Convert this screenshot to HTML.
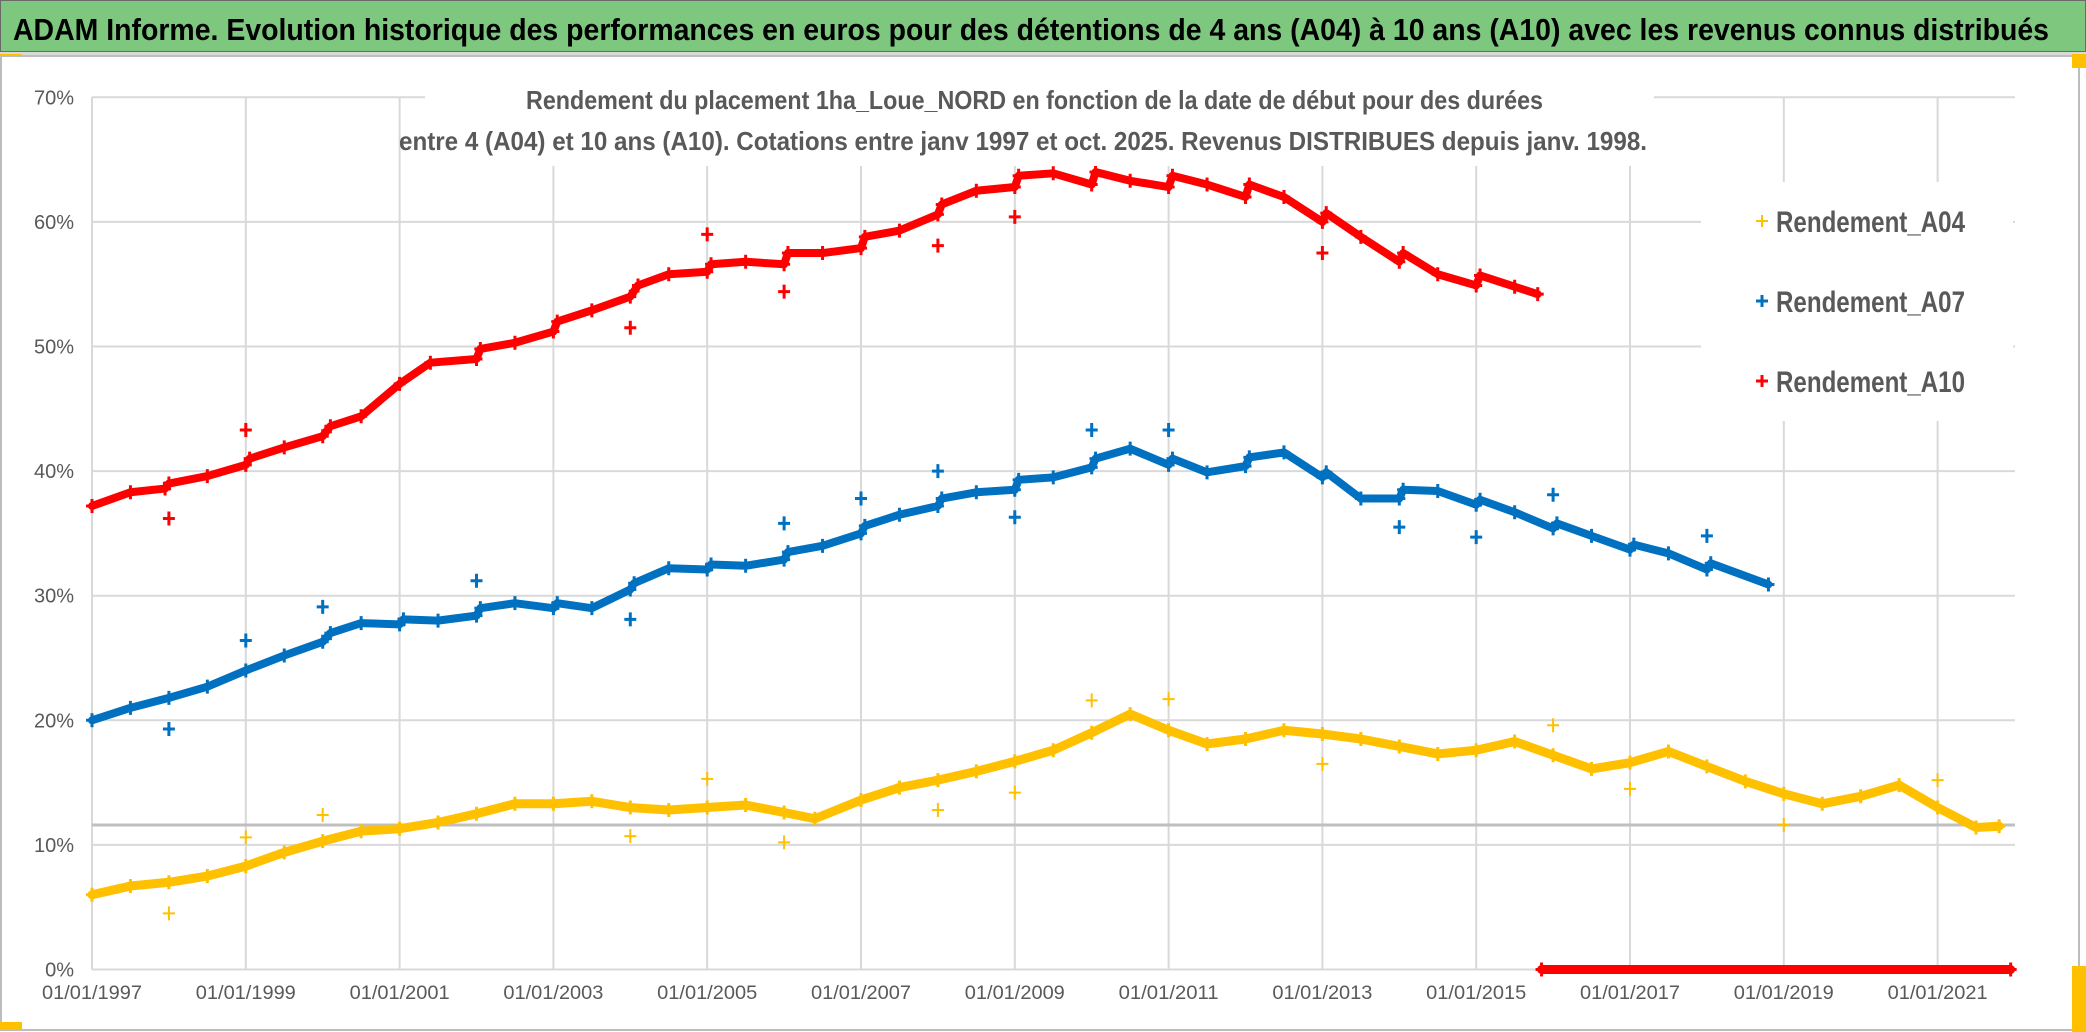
<!DOCTYPE html>
<html><head><meta charset="utf-8"><style>
html,body{margin:0;padding:0;background:#fff;}
svg{display:block;}
text{font-family:"Liberation Sans",sans-serif;}
</style></head><body>
<svg id="chart" width="2086" height="1032" viewBox="0 0 2086 1032">
  <rect x="0" y="0" width="2086" height="1032" fill="#ffffff"/>
  <rect x="0" y="0" width="2086" height="52" fill="#7dc87e" stroke="#6a6a6a" stroke-width="2"/>
  <text x="13" y="40" font-size="31" font-weight="bold" fill="#000" textLength="2036" lengthAdjust="spacingAndGlyphs">ADAM Informe. Evolution historique des performances en euros pour des détentions de 4 ans (A04) à 10 ans (A10) avec les revenus connus distribués</text>
  <rect x="0" y="52" width="2086" height="4" fill="#d9d9d9"/>
  <rect x="0" y="54" width="22" height="4" fill="#ffc000"/>
  <rect x="1" y="56" width="2078" height="974" fill="#fff" stroke="#bdbdbd" stroke-width="2"/>
  <rect x="2072" y="54" width="14" height="14" fill="#ffc000"/>
  <rect x="2072" y="966" width="14" height="66" fill="#ffc000"/>
  <rect x="0" y="1022" width="22" height="8" fill="#ffc000"/>
  <g id="grid"></g>
  <g id="axes"></g>
  <g id="series"></g>
  <rect x="425" y="70" width="1229" height="96" fill="#fff"/>
  <text x="526" y="109" font-size="26" font-weight="bold" fill="#595959" textLength="1017" lengthAdjust="spacingAndGlyphs">Rendement du placement 1ha_Loue_NORD en fonction de la date de début pour des durées</text>
  <text x="399" y="150" font-size="26" font-weight="bold" fill="#595959" textLength="1248" lengthAdjust="spacingAndGlyphs">entre 4 (A04) et 10 ans (A10). Cotations entre janv 1997 et oct. 2025. Revenus DISTRIBUES depuis janv. 1998.</text>
  <g id="legend">
    <rect x="1701" y="182" width="312" height="239" fill="#fff"/>
  </g>
</svg>
<script>
const years = [1997,1999,2001,2003,2005,2007,2009,2011,2013,2015,2017,2019,2021];
const yTicks = [0,10,20,30,40,50,60,70];
const targetLine = 11.6;

const a04X = [1997,1997.5,1998,1998.5,1999,1999.5,2000,2000.5,2001,2001.5,2002,2002.5,2003,2003.5,2004,2004.5,2005,2005.5,2006,2006.4,2007,2007.5,2008,2008.5,2009,2009.5,2010,2010.5,2011,2011.5,2012,2012.5,2013,2013.5,2014,2014.5,2015,2015.5,2016,2016.5,2017,2017.5,2018,2018.5,2019,2019.5,2020,2020.5,2021,2021.5,2021.8];
const a04Y = [6.0,6.7,7.0,7.5,8.3,9.4,10.3,11.1,11.3,11.8,12.5,13.3,13.3,13.5,13.0,12.8,13.0,13.2,12.6,12.1,13.6,14.6,15.2,15.9,16.7,17.6,19.0,20.5,19.2,18.1,18.5,19.2,18.9,18.5,17.9,17.3,17.6,18.3,17.2,16.1,16.6,17.5,16.3,15.1,14.1,13.3,13.9,14.8,13.0,11.4,11.5];
const a04OutX = [1998,1999,2000,2004,2005,2006,2008,2009,2010,2011,2013,2016,2017,2019,2021];
const a04OutY = [4.5,10.6,12.4,10.7,15.3,10.2,12.8,14.2,21.6,21.7,16.5,19.6,14.5,11.6,15.2];

const a07X = [1997,1997.5,1998,1998.5,1999,1999.5,2000,2000.1,2000.5,2001,2001.05,2001.5,2002,2002.05,2002.5,2003,2003.05,2003.5,2004,2004.05,2004.5,2005,2005.05,2005.5,2006,2006.05,2006.5,2007,2007.05,2007.5,2008,2008.05,2008.5,2009,2009.05,2009.5,2010,2010.05,2010.5,2011,2011.05,2011.5,2012,2012.05,2012.5,2013,2013.05,2013.5,2014,2014.05,2014.5,2015,2015.05,2015.5,2016,2016.05,2016.5,2017,2017.05,2017.5,2018,2018.05,2018.8];
const a07Y = [20.0,21.0,21.8,22.7,24.0,25.2,26.3,27.0,27.8,27.7,28.1,28.0,28.4,29.0,29.4,29.0,29.4,29.0,30.5,31.0,32.2,32.1,32.5,32.4,32.9,33.5,34.0,35.0,35.6,36.5,37.2,37.8,38.3,38.5,39.3,39.5,40.3,41.0,41.8,40.5,41.0,39.9,40.4,41.1,41.5,39.5,39.9,37.8,37.8,38.5,38.4,37.3,37.7,36.7,35.4,35.8,34.8,33.7,34.1,33.4,32.1,32.6,30.9];
const a07OutX = [1998,1999,2000,2002,2004,2006,2007,2008,2009,2010,2011,2014,2015,2016,2018];
const a07OutY = [19.3,26.4,29.1,31.2,28.1,35.8,37.8,40.0,36.3,43.3,43.3,35.5,34.7,38.1,34.8];

const a10X = [1997,1997.5,1997.95,1998,1998.5,1999,1999.05,1999.5,2000,2000.1,2000.5,2001,2001.4,2002,2002.05,2002.5,2003,2003.05,2003.5,2004,2004.1,2004.5,2005,2005.05,2005.5,2006,2006.05,2006.5,2007,2007.05,2007.5,2008,2008.05,2008.5,2009,2009.05,2009.5,2010,2010.05,2010.5,2011,2011.05,2011.5,2012,2012.05,2012.5,2013,2013.05,2013.5,2014,2014.05,2014.5,2015,2015.05,2015.5,2015.8];
const a10Y = [37.2,38.3,38.6,39.0,39.6,40.5,41.0,41.9,42.8,43.6,44.4,47.0,48.7,49.0,49.8,50.3,51.2,52.0,52.9,54.0,54.9,55.8,56.0,56.6,56.8,56.6,57.5,57.5,57.9,58.8,59.3,60.6,61.4,62.5,62.8,63.7,63.9,63.0,64.0,63.3,62.8,63.7,63.0,62.0,63.0,62.0,60.0,60.7,58.8,56.8,57.5,55.8,54.9,55.7,54.8,54.2];
const a10ZeroX = [2015.85,2021.95];
const a10ZeroY = [0,0];
const a10OutX = [1998,1999,2004,2005,2006,2008,2009,2013];
const a10OutY = [36.2,43.3,51.5,59.0,54.4,58.1,60.4,57.5];

const X0=92, XPY=76.9, Y0=969.5, YP=12.46, XR=2015, YT=97;
function xs(yr){return X0+(yr-1997)*XPY;}
function ys(p){return Y0-p*YP;}
const NS='http://www.w3.org/2000/svg';
function mk(tag,attrs,parent){const e=document.createElementNS(NS,tag);for(const k in attrs)e.setAttribute(k,attrs[k]);parent.appendChild(e);return e;}

const grid=document.getElementById('grid');
yTicks.forEach(t=>{
  const l=mk('line',{x1:X0,x2:XR,y1:ys(t),y2:ys(t),stroke:'#d9d9d9','stroke-width':2},grid);
  
  
});
years.forEach(y=>{
  const l=mk('line',{x1:xs(y),x2:xs(y),y1:YT,y2:Y0,stroke:'#d9d9d9','stroke-width':2},grid);
  
  
});
const tl=mk('line',{x1:X0,x2:XR,y1:ys(targetLine),y2:ys(targetLine),stroke:'#bfbfbf','stroke-width':3},grid);



const axes=document.getElementById('axes');
yTicks.forEach(t=>{
  const tx=mk('text',{x:74,y:ys(t)+7,'font-size':20,fill:'#595959','text-anchor':'end'},axes);
  tx.textContent=t+'%';
  
  
});
years.forEach(y=>{
  const tx=mk('text',{x:xs(y),y:999,'font-size':19,fill:'#595959','text-anchor':'middle',textLength:100,lengthAdjust:'spacingAndGlyphs'},axes);
  tx.textContent='01/01/'+y;
  
  
});

const series=document.getElementById('series');
function band(xa,ya,color,name,w){
  const pts=xa.map((x,i)=>xs(x)+','+ys(ya[i])).join(' ');
  const pl=mk('polyline',{points:pts,fill:'none',stroke:color,'stroke-width':w,'stroke-linejoin':'round','stroke-linecap':'round'},series);
  
  
  xa.forEach((x,i)=>{
    const cx=xs(x),cy=ys(ya[i]);
    const p=mk('path',{d:`M${cx-6},${cy}H${cx+6}M${cx},${cy-7}V${cy+7}`,stroke:color,'stroke-width':3,fill:'none'},series);
    
    
  });
}
function outliers(xa,ya,color,name,sw){
  xa.forEach((x,i)=>{
    const cx=xs(x),cy=ys(ya[i]);
    const p=mk('path',{d:`M${cx-6},${cy}H${cx+6}M${cx},${cy-7}V${cy+7}`,stroke:color,'stroke-width':sw,fill:'none'},series);
    
    
  });
}
band(a04X,a04Y,'#ffc000','rendement-a04',9);
outliers(a04OutX,a04OutY,'#ffc000','rendement-a04',2);
band(a07X,a07Y,'#0070c0','rendement-a07',8);
outliers(a07OutX,a07OutY,'#0070c0','rendement-a07',3);
band(a10X,a10Y,'#ff0000','rendement-a10',8);
band(a10ZeroX,a10ZeroY,'#ff0000','rendement-a10-zero',9);
outliers(a10OutX,a10OutY,'#ff0000','rendement-a10',3);

const legend=document.getElementById('legend');
const legNames=['Rendement_A04','Rendement_A07','Rendement_A10'];
const legColors=['#ffc000','#0070c0','#ff0000'];
const legY=[221,301,381];
legNames.forEach((n,i)=>{
  const m=mk('path',{d:`M1756,${legY[i]}H1768M1762,${legY[i]-6}V${legY[i]+6}`,stroke:legColors[i],'stroke-width':i===0?2:3},legend);
  
  
  const t=mk('text',{x:1776,y:legY[i]+11,'font-size':30,'font-weight':'bold',fill:'#595959',textLength:189,lengthAdjust:'spacingAndGlyphs'},legend);
  t.textContent=n;
  
  
});
</script>
</body></html>
